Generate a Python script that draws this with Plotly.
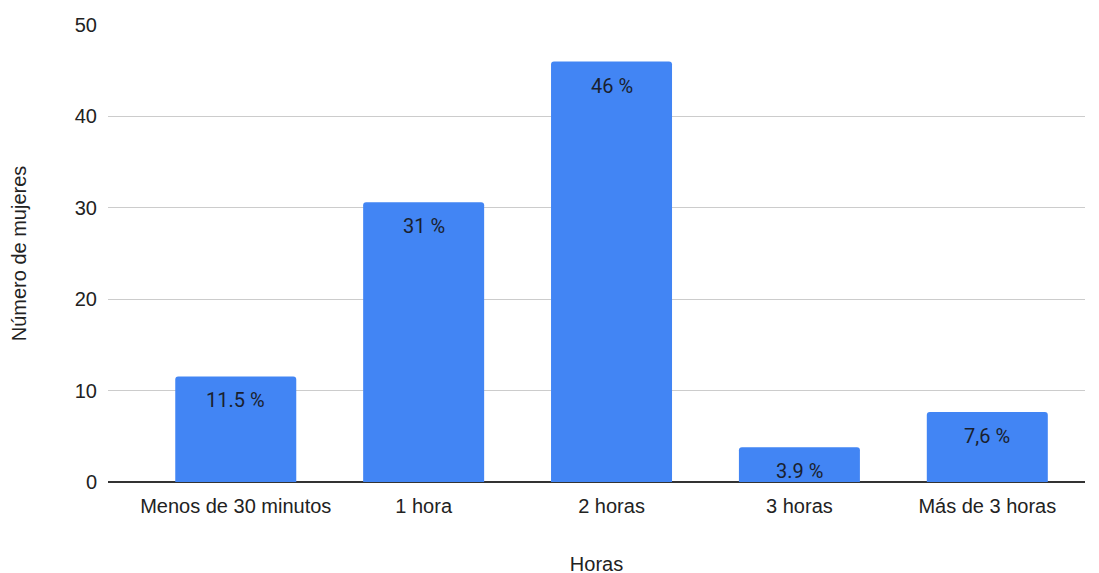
import plotly.graph_objects as go

categories = ["Menos de 30 minutos", "1 hora", "2 horas", "3 horas", "Más de 3 horas"]
values = [11.55, 30.6, 46.0, 3.8, 7.65]
labels = ["11.5 %", "31 %", "46 %", "3.9 %", "7,6 %"]
y_ticks = [0, 10, 20, 30, 40, 50]

fig = go.Figure()
fig.add_trace(go.Bar(
    x=categories, y=values,
    marker=dict(color="#4285F4", cornerradius=3, line=dict(width=0)),
    hoverinfo="skip",
))

for c, v, t in zip(categories, values, labels):
    fig.add_annotation(x=c, y=v, text=t, showarrow=False, yshift=-24,
                       font=dict(family="Roboto", size=20, color="#1a1f2e"))

fig.update_layout(
    width=1099, height=573,
    margin=dict(l=100, r=22, t=17, b=99, autoexpand=False),
    paper_bgcolor="white", plot_bgcolor="white",
    bargap=0.356,
    showlegend=False,
    font=dict(family="Liberation Sans, Arial", size=20, color="#222"),
    xaxis=dict(
        range=[-0.68, 4.52],
        showgrid=False, ticks="", showline=False,
        tickfont=dict(size=20, color="#222"),
        ticklabelstandoff=10,
        automargin=False,
        title=dict(text="Horas", font=dict(size=20, color="#222"), standoff=40),
    ),
    yaxis=dict(
        range=[0, 50], tickvals=y_ticks,
        showgrid=True, gridcolor="#cccccc", gridwidth=1,
        zeroline=True, zerolinecolor="#333333", zerolinewidth=1.5,
        ticks="", tickfont=dict(size=20, color="#222"),
        ticklabelstandoff=10,
        automargin=False,
        title=dict(text="Número de mujeres", font=dict(size=20, color="#222"), standoff=44),
    ),
)

fig.write_html("out.html")
